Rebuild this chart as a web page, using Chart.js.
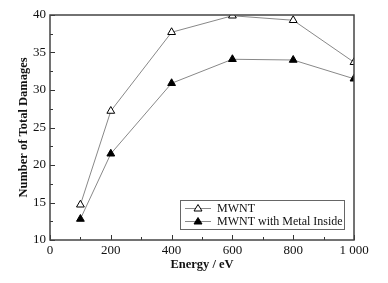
<!DOCTYPE html>
<html>
<head>
<meta charset="utf-8">
<script src="https://cdn.jsdelivr.net/npm/chart.js@4"></script>
<style>
  html, body { margin: 0; padding: 0; background: #fff; }
  #wrap { width: 388px; height: 283px; }
</style>
</head>
<body>
<div id="wrap"><canvas id="damageChart" width="388" height="283"></canvas></div>
<script>
const energies = [100, 200, 400, 600, 800, 1000];
const mwnt = [14.7, 27.2, 37.7, 39.9, 39.3, 33.7];
const mwntMetal = [12.8, 21.5, 30.9, 34.1, 34.0, 31.5];
const xTicks = [0, 200, 400, 600, 800, 1000];
const yTicks = [10, 15, 20, 25, 30, 35, 40];
const seriesNames = ["MWNT", "MWNT with Metal Inside"];

const serif = "'Liberation Serif', 'Times New Roman', serif";

// inside ticks, frame and the legend box
const framePlugin = {
    id: "frame",
    afterDraw(chart) {
        const ctx = chart.ctx;
        const area = chart.chartArea;
        const x = chart.scales.x;
        const y = chart.scales.y;
        ctx.save();
        ctx.strokeStyle = "#333";
        ctx.lineWidth = 1;
        ctx.beginPath();
        for (let v = 0; v <= 1000; v += 100) {
            const px = Math.round(x.getPixelForValue(v)) + 0.5;
            const len = v % 200 === 0 ? 5 : 3;
            ctx.moveTo(px, area.bottom);
            ctx.lineTo(px, area.bottom - len);
        }
        for (let v = 10; v <= 40; v += 2.5) {
            const py = Math.round(y.getPixelForValue(v)) + 0.5;
            const len = v % 5 === 0 ? 5 : 3;
            ctx.moveTo(area.left, py);
            ctx.lineTo(area.left + len, py);
        }
        ctx.stroke();
        ctx.lineWidth = 1.5;
        ctx.strokeStyle = "#444";
        ctx.strokeRect(area.left, area.top, area.right - area.left, area.bottom - area.top);

        // legend
        const lx = 180, ly = 200, lw = 164, lh = 29;
        ctx.lineWidth = 1;
        ctx.strokeStyle = "#666";
        ctx.fillStyle = "#fff";
        ctx.fillRect(lx, ly, lw, lh);
        ctx.strokeRect(lx + 0.5, ly + 0.5, lw, lh);
        ctx.font = "12px " + serif;
        ctx.textBaseline = "middle";
        chart.data.datasets.forEach((ds, i) => {
            const cy = ly + 8 + i * 13;
            ctx.strokeStyle = ds.borderColor;
            ctx.beginPath();
            ctx.moveTo(lx + 5, cy + 0.5);
            ctx.lineTo(lx + 31, cy + 0.5);
            ctx.stroke();
            const mx = lx + 18;
            ctx.beginPath();
            ctx.moveTo(mx, cy - 3.5);
            ctx.lineTo(mx + 4, cy + 3);
            ctx.lineTo(mx - 4, cy + 3);
            ctx.closePath();
            ctx.fillStyle = ds.pointBackgroundColor;
            ctx.fill();
            ctx.strokeStyle = "#000";
            ctx.stroke();
            ctx.fillStyle = "#111";
            ctx.fillText(ds.label, lx + 37, cy + 1);
        });
        ctx.restore();
    }
};

const ctx = document.getElementById("damageChart").getContext("2d");

new Chart(ctx, {
    type: "line",
    data: {
        datasets: [{
            label: seriesNames[0],
            data: energies.map((e, i) => ({ x: e, y: mwnt[i] })),
            borderColor: "#888",
            borderWidth: 1,
            pointStyle: "triangle",
            pointRadius: 4.5,
            pointBackgroundColor: "#fff",
            pointBorderColor: "#000",
            pointBorderWidth: 1
        }, {
            label: seriesNames[1],
            data: energies.map((e, i) => ({ x: e, y: mwntMetal[i] })),
            borderColor: "#888",
            borderWidth: 1,
            pointStyle: "triangle",
            pointRadius: 4.5,
            pointBackgroundColor: "#000",
            pointBorderColor: "#000",
            pointBorderWidth: 1
        }]
    },
    options: {
        responsive: false,
        animation: false,
        layout: { padding: { top: 15, right: 34, left: 0, bottom: 0 } },
        plugins: {
            legend: { display: false },
            tooltip: { enabled: false }
        },
        scales: {
            x: {
                type: "linear",
                min: 0,
                max: 1000,
                afterBuildTicks: (scale) => { scale.ticks = xTicks.map(v => ({ value: v })); },
                afterFit: (scale) => { scale.height = 43; },
                grid: { display: false, drawTicks: false },
                border: { display: false },
                ticks: {
                    padding: 3,
                    color: "#111",
                    font: { family: serif, size: 13 },
                    callback: (v) => v === 1000 ? "1 000" : v
                },
                title: {
                    display: true,
                    text: "Energy / eV",
                    color: "#111",
                    padding: { top: 0, bottom: 11 },
                    font: { family: serif, size: 12.5, weight: "bold" }
                }
            },
            y: {
                min: 10,
                max: 40,
                afterBuildTicks: (scale) => { scale.ticks = yTicks.map(v => ({ value: v })); },
                afterFit: (scale) => { scale.width = 50; },
                grid: { display: false, drawTicks: false },
                border: { display: false },
                ticks: {
                    padding: 4,
                    color: "#111",
                    font: { family: serif, size: 13 }
                },
                title: {
                    display: true,
                    text: "Number of Total Damages",
                    color: "#111",
                    padding: { top: 16, bottom: 0 },
                    font: { family: serif, size: 12.5, weight: "bold" }
                }
            }
        }
    },
    plugins: [framePlugin]
});
</script>
</body>
</html>
